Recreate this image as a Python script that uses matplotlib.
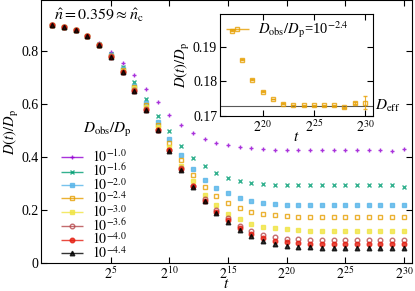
import numpy as np
import matplotlib
matplotlib.use('Agg')
import matplotlib.pyplot as plt
from matplotlib.container import ErrorbarContainer
from matplotlib.legend_handler import HandlerErrorbar
import matplotlib.transforms as mtransforms

plt.rcParams['font.family'] = ['Liberation Serif', 'DejaVu Serif']
plt.rcParams['mathtext.fontset'] = 'stix'

# ---- data ----
log2_t = np.arange(0, 31)
t = 2.0 ** log2_t

d_m10 = [.901, .893, .880, .859, .830, .798, .755, .710, .657, .607, .558, .520, .491, .467, .454, .444,
         .437, .433, .430, .428, .428, .428, .427, .427, .427, .427, .427, .427, .425, .424, .429]
d_m16 = [.900, .892, .879, .858, .826, .788, .739, .684, .619, .555, .497, .443, .397, .366, .340, .323,
         .311, .302, .299, .296, .295, .295, .295, .295, .295, .295, .295, .295, .295, .295, .289]
d_m20 = [.900, .892, .879, .857, .825, .784, .732, .670, .603, .532, .467, .407, .356, .315, .283, .263,
         .246, .235, .228, .224, .221, .220, .219, .218, .218, .218, .218, .218, .218, .218, .219]
d_m24 = [.900, .892, .879, .857, .825, .783, .729, .665, .596, .521, .452, .388, .331, .287, .252, .228,
         .208, .1946, .1862, .1805, .1770, .1749, .1736, .1732, .1731, .1731, .1731, .1731, .1725, .1738, .1739]
d_m30 = [.900, .892, .879, .857, .824, .782, .726, .660, .588, .512, .440, .368, .309, .258, .220, .187,
         .165, .149, .138, .131, .127, .123, .121, .120, .120, .120, .120, .120, .120, .120, .120]
d_m36 = [.900, .892, .879, .857, .823, .780, .722, .652, .580, .504, .428, .358, .292, .242, .199, .170,
         .140, .120, .106, .098, .091, .089, .087, .087, .087, .087, .087, .087, .087, .087, .087]
d_m40 = [.900, .892, .879, .857, .823, .779, .721, .651, .578, .502, .425, .355, .290, .235, .192, .162,
         .132, .110, .095, .085, .078, .075, .073, .072, .071, .071, .071, .071, .071, .071, .071]
d_m44 = [.900, .892, .879, .857, .822, .778, .720, .650, .577, .501, .423, .353, .289, .233, .189, .154,
         .124, .101, .084, .073, .066, .062, .059, .058, .058, .058, .058, .058, .058, .058, .058]

series = [d_m10, d_m16, d_m20, d_m24, d_m30, d_m36, d_m40, d_m44]
labels = [r'$10^{-1.0}$', r'$10^{-1.6}$', r'$10^{-2.0}$', r'$10^{-2.4}$',
          r'$10^{-3.0}$', r'$10^{-3.6}$', r'$10^{-4.0}$', r'$10^{-4.4}$']
colors = ['#9400D3', '#009E73', '#56B4E9', '#E69F00', '#F0E442', '#B5474B', '#E51E10', '#000000']
markers = ['+', 'x', 's', 's', 's', 'o', 'o', '^']
filled = [True, True, True, False, True, False, True, True]

# inset (D_obs/D_p = 10^-2.4, t = 2^17 .. 2^30)
inset_log2_t = np.arange(17, 31)
inset_d = d_m24[17:]
inset_err = [.0001, .0001, .0001, .0001, .0001, .0001, .0001, .0001, .0001, .0001, .0001, .0002, .0004, .0018]
d_eff = 0.1730

xtick_exp = [5, 10, 15, 20, 25, 30]
ytick_vals = [0, 0.2, 0.4, 0.6, 0.8]
ytick_labels = ['0', '0.2', '0.4', '0.6', '0.8']
inset_xtick_exp = [20, 25, 30]
inset_yticks = [0.17, 0.18, 0.19]

# ---- figure ----
fig = plt.figure(figsize=(4.15, 2.91), dpi=100)
ax = fig.add_axes([0.099, 0.096, 0.894, 0.903])
ax.set_xscale('log', base=2)

for d, c, m, f in zip(series, colors, markers, filled):
    ax.plot(t, d, linestyle='none', marker=m, color=c, ms=3.3,
            mfc=c if f else 'none', mew=1.0, alpha=0.8)

ax.set_xlim(2 ** -0.95, 2 ** 30.7)
ax.set_ylim(0, 0.992)
ax.set_xticks([2.0 ** e for e in xtick_exp])
ax.set_xticklabels([rf'$2^{{{e}}}$' for e in xtick_exp])
ax.xaxis.set_minor_locator(matplotlib.ticker.NullLocator())
ax.set_yticks(ytick_vals)
ax.set_yticklabels(ytick_labels)
ax.tick_params(direction='in', top=True, right=True, length=4, labelsize=10, width=0.8, pad=2)
ax.set_xlabel(r'$t$', fontsize=11, labelpad=-3)
ax.set_ylabel(r'$D(t)/D_{\rm p}$', fontsize=10.5, labelpad=0)

ax.text(0.035, 0.943, r'$\hat{n}=0.359\approx\hat{n}_{\rm c}$', transform=ax.transAxes,
        fontsize=11.5, va='center', ha='left')

# legend with horizontal error-bar style handles
proxies = []
for c, m, f in zip(colors, markers, filled):
    h = ax.errorbar([], [], xerr=[], fmt=m, color=c, ms=3.3, mfc=c if f else 'none',
                    capsize=2, elinewidth=1.0, mew=1.0, alpha=0.8)
    proxies.append(h)
leg = ax.legend(proxies, labels, loc='upper left', bbox_to_anchor=(0.035, 0.462),
                frameon=False, fontsize=10, labelspacing=-0.17, handlelength=1.6,
                handletextpad=0.6, borderpad=0.0,
                handler_map={ErrorbarContainer: HandlerErrorbar(xerr_size=0.8)})
ax.text(0.113, 0.505, r'$D_{\rm obs}/D_{\rm p}$', transform=ax.transAxes,
        fontsize=11, va='center', ha='left')

# ---- inset ----
axin = fig.add_axes([0.530, 0.601, 0.369, 0.351])
axin.set_xscale('log', base=2)
axin.axhline(d_eff, color='0.35', lw=0.8)
axin.errorbar(2.0 ** inset_log2_t, inset_d, yerr=inset_err, fmt='s', color=colors[3],
              mfc='none', ms=3.3, capsize=1.5, elinewidth=0.8, mew=1.0, alpha=0.8)
hin = axin.errorbar([], [], xerr=[], fmt='s', color=colors[3], mfc='none', ms=3.3,
                    capsize=2, elinewidth=1.0, mew=1.0, alpha=0.8)
axin.legend([hin], [r'$D_{\rm obs}/D_{\rm p}$=10$^{-2.4}$'], loc='upper left',
            frameon=False, fontsize=10.5, handlelength=1.6, handletextpad=0.6,
            borderpad=0.3, borderaxespad=0.1,
            handler_map={ErrorbarContainer: HandlerErrorbar(xerr_size=0.8)})
axin.set_xlim(2 ** 15.83, 2 ** 30.8)
axin.set_ylim(0.1701, 0.1994)
axin.set_xticks([2.0 ** e for e in inset_xtick_exp])
axin.set_xticklabels([rf'$2^{{{e}}}$' for e in inset_xtick_exp])
axin.xaxis.set_minor_locator(matplotlib.ticker.NullLocator())
axin.set_yticks(inset_yticks)
axin.set_yticklabels(['0.17', '0.18', '0.19'])
axin.tick_params(direction='in', top=True, right=True, length=4, labelsize=10, width=0.8, pad=2)
axin.set_xlabel(r'$t$', fontsize=11, labelpad=-3)
axin.set_ylabel(r'$D(t)/D_{\rm p}$', fontsize=10.5, labelpad=1)
trans = mtransforms.blended_transform_factory(axin.transAxes, axin.transData)
axin.text(1.01, d_eff, r'$D_{\rm eff}$', transform=trans, fontsize=11, va='center', ha='left')

fig.savefig('out.png', dpi=100)
